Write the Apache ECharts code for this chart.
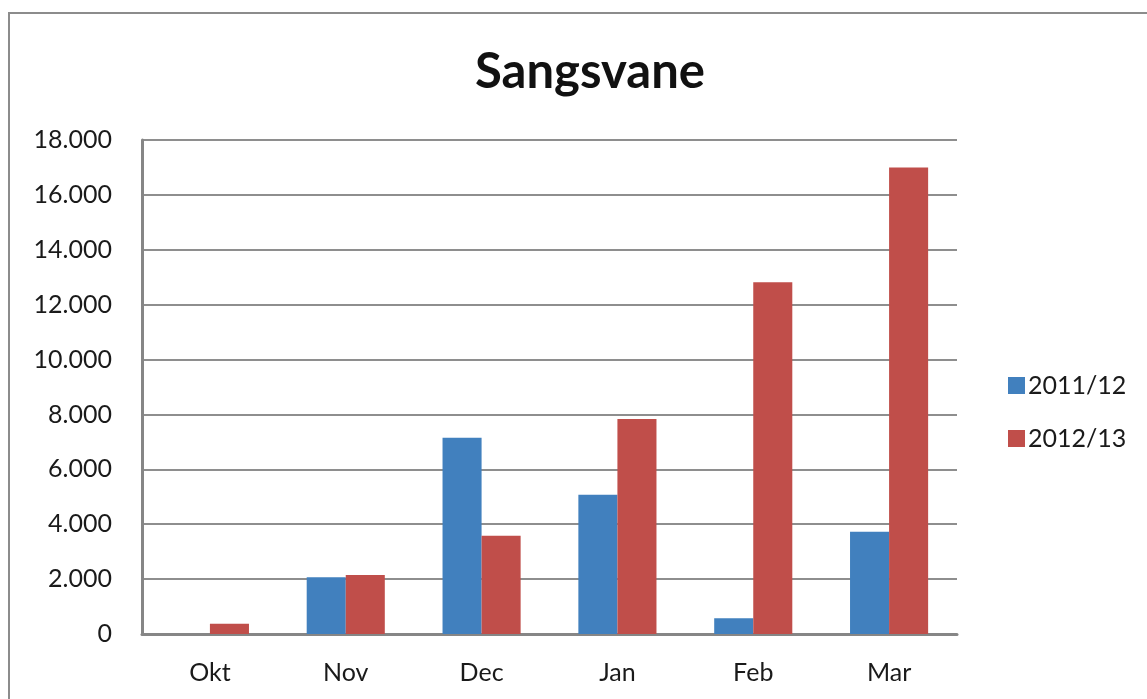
<!DOCTYPE html>
<html>
<head>
<meta charset="utf-8">
<script src="https://cdn.jsdelivr.net/npm/echarts@6/dist/echarts.min.js"></script>
<style>
  html, body { margin: 0; padding: 0; background: #fff; }
  #chart { width: 1147px; height: 699px; }
</style>
</head>
<body>
<div id="chart"></div>
<script>
const months = ['Okt', 'Nov', 'Dec', 'Jan', 'Feb', 'Mar']
const season1 = [0, 2070, 7150, 5070, 570, 3730]
const season2 = [370, 2150, 3580, 7830, 12820, 17000]
const seriesNames = ['2011/12', '2012/13']

const font = 'Lato, "Open Sans", sans-serif'
const chart = echarts.init(document.getElementById('chart'))

chart.setOption({
  animation: false,
  title: {
    text: 'Sangsvane',
    left: 585,
    textAlign: 'center',
    top: 43,
    textStyle: {
      fontFamily: font,
      fontSize: 49,
      fontWeight: 'bold',
      color: '#111'
    }
  },
  graphic: [{
    type: 'rect',
    shape: { x: 9, y: 13, width: 1300, height: 900 },
    style: { fill: 'none', stroke: '#8c8c8c', lineWidth: 2 },
    silent: true
  }],
  legend: {
    orient: 'vertical',
    left: 1003,
    top: 368,
    itemWidth: 17,
    itemHeight: 17,
    itemGap: 28,
    icon: 'rect',
    textStyle: { fontFamily: font, fontSize: 25, lineHeight: 25, color: '#1a1a1a', padding: [0, 0, 0, -2] },
    data: seriesNames
  },
  grid: {
    left: 142,
    right: 1147 - 957,
    top: 140,
    bottom: 699 - 634,
    containLabel: false
  },
  xAxis: {
    type: 'category',
    data: months,
    axisLine: { lineStyle: { color: '#868686', width: 3 } },
    axisTick: { show: false },
    axisLabel: {
      margin: 26,
      fontFamily: font,
      fontSize: 25,
      color: '#1a1a1a'
    }
  },
  yAxis: {
    type: 'value',
    min: 0,
    max: 18000,
    interval: 2000,
    axisLine: { show: true, lineStyle: { color: '#868686', width: 3 } },
    axisTick: { show: false },
    splitLine: { lineStyle: { color: '#8e8e8e', width: 2 } },
    axisLabel: {
      margin: 30,
      fontFamily: font,
      fontSize: 25,
      color: '#1a1a1a',
      formatter: v => String(v).replace(/\B(?=(\d{3})+(?!\d))/g, '.')
    }
  },
  series: [
    {
      name: seriesNames[0],
      type: 'bar',
      data: season1,
      barGap: '0%',
      barCategoryGap: '42.5%',
      itemStyle: { color: '#4180be' }
    },
    {
      name: seriesNames[1],
      type: 'bar',
      data: season2,
      barGap: '0%',
      barCategoryGap: '42.5%',
      itemStyle: { color: '#c04e4a' }
    }
  ]
})
</script>
</body>
</html>
